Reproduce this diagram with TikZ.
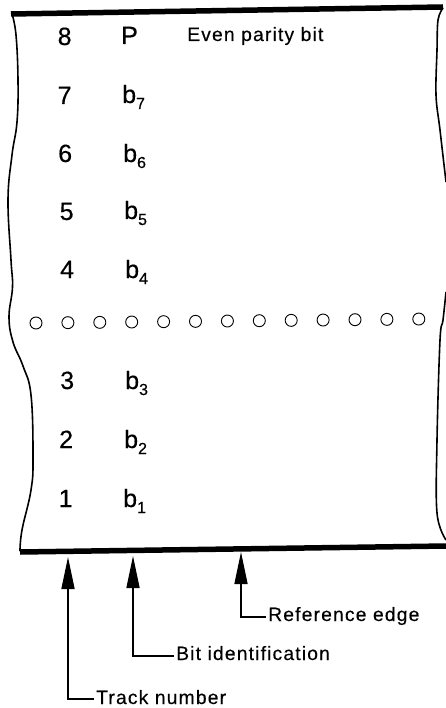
\documentclass[tikz,border=0pt]{standalone}
\usepackage{fontspec}
\setmainfont[FakeBold=0.4]{Liberation Sans}
\newfontfamily\spaced[LetterSpace=6,FakeBold=0.3]{Liberation Sans}
\usetikzlibrary{arrows.meta}
\newcommand{\bsub}[1]{b\raisebox{-6pt}{\fontsize{16}{16}\selectfont #1}}
\tikzset{
  tapeside/.style={line width=1.6pt,line join=round},
  tapebar/.style={line width=5.5pt},
  hole/.style={circle,draw,line width=0.9pt,minimum size=12pt,inner sep=0pt},
  tracktext/.style={anchor=base west,inner sep=0pt,font=\fontsize{25}{25}\selectfont},
  note/.style={anchor=base west,inner sep=0pt,font=\spaced\fontsize{19.3}{19.3}\selectfont},
  pointer/.style={line width=1.5pt,-{Triangle[length=32pt,width=13pt]}}
}
\begin{document}
\begin{tikzpicture}[x=1pt,y=-1pt]
\useasboundingbox (0,0) rectangle (446,708);
% tape
\draw[tapeside] plot[smooth,tension=0.7] coordinates {(12,14) (16,35) (18,80) (17,122) (12,155) (8,200) (11,260) (12.5,287) (9,317) (13,342) (23,366) (31,395) (33,457) (31,490) (22,530) (20,551)};
\draw[tapeside] plot[smooth,tension=0.6] coordinates {(443,8) (438,20) (437,50) (436,95) (440,130) (446,182)};
\draw[tapeside] plot[smooth,tension=0.6] coordinates {(446,292) (443,320) (440,340) (437,440) (437,513) (446,540)};
\coordinate (tl) at (11,14);
\coordinate (tr) at (443,7);
\coordinate (bl) at (20,552);
\coordinate (br) at (446,546);
\draw[tapebar] (tl) -- (tr);
\draw[tapebar] (bl) -- (br);
% holes
\foreach \i in {0,...,12}
  \node[hole] (h\i) at ({36+\i*31.9},{323-\i*0.33}) {};
% track numbers
\node[tracktext] (t8) at (57.5,45) {8};
\node[tracktext] (t7) at (57.5,104) {7};
\node[tracktext] (t6) at (58,162) {6};
\node[tracktext] (t5) at (59.5,220) {5};
\node[tracktext] (t4) at (60,278) {4};
\node[tracktext] (t3) at (60,389) {3};
\node[tracktext] (t2) at (59,448) {2};
\node[tracktext] (t1) at (58.5,507) {1};
% bits
\node[tracktext] (bp) at (121,44) {P};
\node[tracktext] (b7) at (122,103) {\bsub{7}};
\node[tracktext] (b6) at (123,162) {\bsub{6}};
\node[tracktext] (b5) at (124,219) {\bsub{5}};
\node[tracktext] (b4) at (125,278) {\bsub{4}};
\node[tracktext] (b3) at (125,389) {\bsub{3}};
\node[tracktext] (b2) at (124,448) {\bsub{2}};
\node[tracktext] (b1) at (123,507) {\bsub{1}};
\node[note] (even) at (187,41) {Even parity bit};
% labels and pointers
\node[note] (refedge) at (268,621) {Reference edge};
\node[note] (bitid) at (176,660) {Bit identification};
\node[note] (trackno) at (96,704) {Track number};
\coordinate (refedgetip) at (241,552);
\coordinate (bitidtip) at (133,556);
\coordinate (tracknotip) at (68,557);
\draw[pointer] ([xshift=-2pt]refedge.west |- 0,617) -| (refedgetip);
\draw[pointer] ([xshift=-2pt]bitid.west |- 0,656) -| (bitidtip);
\draw[pointer] ([xshift=-2pt]trackno.west |- 0,699) -| (tracknotip);
\end{tikzpicture}
\end{document}
